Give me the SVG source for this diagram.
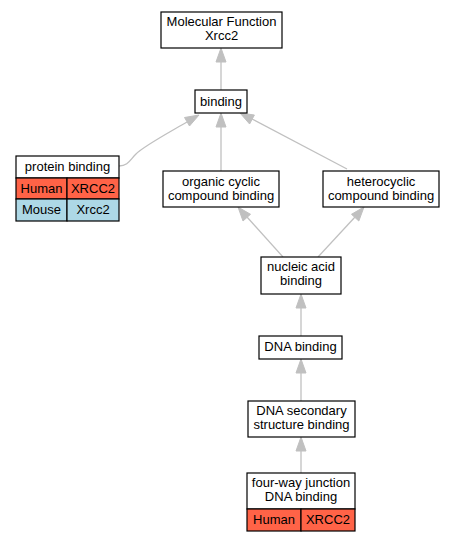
<svg xmlns="http://www.w3.org/2000/svg" width="455" height="541" viewBox="0 0 455 541">
<defs>
<style>
text{font-family:"Liberation Sans",Arial,sans-serif;font-size:13px;fill:#000;text-anchor:middle}
.box{fill:#fff;stroke:#000;stroke-width:1.2}
.hu{fill:#ff6347;stroke:#000;stroke-width:1.2}
.mo{fill:#add8e6;stroke:#000;stroke-width:1.2}
.e{fill:none;stroke:#c0c0c0;stroke-width:1.3}
.ah{fill:#c0c0c0;stroke:#c0c0c0}
</style>
</defs>
<rect width="455" height="541" fill="#fff"/>
<g id="edges">
<path class="e" d="M221,90 L221,62"/><polygon class="ah" points="221,48 216,62 226,62"/>
<path class="e" d="M221,171 L221,127"/><polygon class="ah" points="221,113 216,127 226,127"/>
<path class="e" d="M347,169 L252,119"/><polygon class="ah" points="240,113 249.6,124 254.4,115"/>
<path class="e" d="M119,166 C128,166 130,160 136,154 C144,146 170,132 187,122"/><polygon class="ah" points="199,115 184.5,117.5 189.5,126"/>
<path class="e" d="M283,257 L247,217"/><polygon class="ah" points="238,207 243,221 250.5,214.3"/>
<path class="e" d="M318,257 L355,217"/><polygon class="ah" points="364,207 351.5,214.3 358.8,221"/>
<path class="e" d="M301,336 L301,308"/><polygon class="ah" points="301,294 296,308 306,308"/>
<path class="e" d="M301,401 L301,373"/><polygon class="ah" points="301,359 296,373 306,373"/>
<path class="e" d="M301,473 L301,451"/><polygon class="ah" points="301,437 296,451 306,451"/>
</g>
<g id="mf">
<rect class="box" x="161" y="12" width="121" height="36"/>
<text x="221.5" y="26">Molecular Function</text>
<text x="221.5" y="40">Xrcc2</text>
</g>
<g id="binding">
<rect class="box" x="195" y="90" width="52" height="23"/>
<text x="221" y="106">binding</text>
</g>
<g id="protein_binding">
<rect class="box" x="16" y="156" width="103" height="22"/>
<text x="67.5" y="170.5">protein binding</text>
<rect class="hu" x="16" y="178" width="51" height="21"/>
<rect class="hu" x="67" y="178" width="52" height="21"/>
<text x="41.5" y="192.5">Human</text>
<text x="93" y="192.5">XRCC2</text>
<rect class="mo" x="16" y="199" width="51" height="22"/>
<rect class="mo" x="67" y="199" width="52" height="22"/>
<text x="41.5" y="214">Mouse</text>
<text x="93" y="214">Xrcc2</text>
</g>
<g id="organic">
<rect class="box" x="163" y="171" width="116" height="36"/>
<text x="221" y="185.5">organic cyclic</text>
<text x="221" y="199.5">compound binding</text>
</g>
<g id="heterocyclic">
<rect class="box" x="323" y="171" width="116" height="36"/>
<text x="381" y="185.5">heterocyclic</text>
<text x="381" y="199.5">compound binding</text>
</g>
<g id="nucleic">
<rect class="box" x="261" y="257" width="80" height="37"/>
<text x="301" y="271">nucleic acid</text>
<text x="301" y="285">binding</text>
</g>
<g id="dna_binding">
<rect class="box" x="259" y="336" width="83" height="23"/>
<text x="300.5" y="350.5">DNA binding</text>
</g>
<g id="dna_secondary">
<rect class="box" x="248" y="401" width="107" height="36"/>
<text x="301.5" y="415">DNA secondary</text>
<text x="301.5" y="429">structure binding</text>
</g>
<g id="fourway">
<rect class="box" x="247" y="473" width="108" height="36"/>
<text x="301" y="487">four-way junction</text>
<text x="301" y="501">DNA binding</text>
<rect class="hu" x="247" y="509" width="54" height="22"/>
<rect class="hu" x="301" y="509" width="54" height="22"/>
<text x="274" y="524">Human</text>
<text x="328" y="524">XRCC2</text>
</g>
</svg>
